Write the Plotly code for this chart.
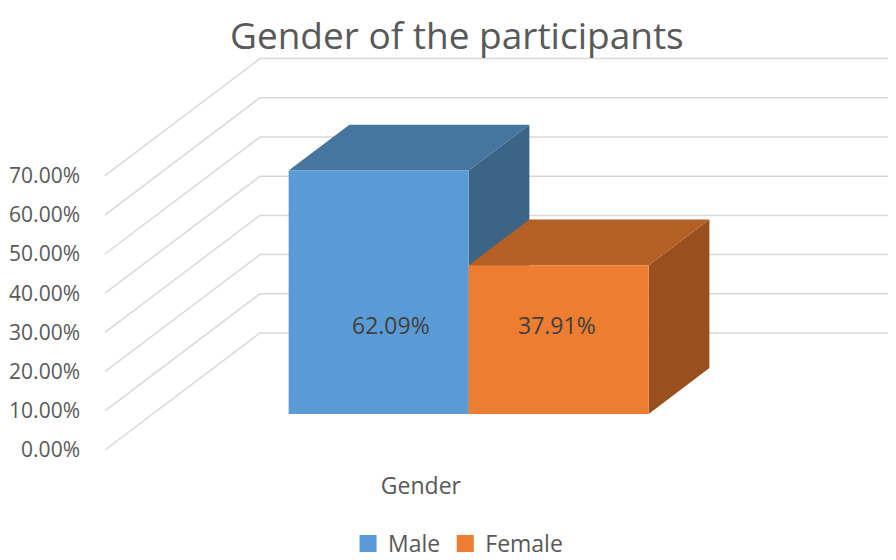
import plotly.graph_objects as go

# ---------------- data ----------------
categories = ["Male", "Female"]
values = [62.09, 37.91]                      # percent
value_labels = ["62.09%", "37.91%"]
tick_values = [0, 10, 20, 30, 40, 50, 60, 70]
tick_labels = ["0.00%", "10.00%", "20.00%", "30.00%", "40.00%", "50.00%", "60.00%", "70.00%"]
group_label = "Gender"
title_text = "Gender of the participants"

# ---------------- styling / projection ----------------
front_colors = ["#5B9BD5", "#ED7D31"]
top_colors = ["#4675A0", "#B45F23"]
side_colors = ["#3B6487", "#994F1E"]
grid_color = "#D9D9D9"
text_color = "#595959"
FONT = "Open Sans"

DX, DY = 0.861, 29.85      # full floor depth vector (x units, y units)
D0, D1 = 0.308, 0.70       # bar front / back depth fraction
BAR_START = 0.755          # left edge of first bar at depth 0
BAR_W = 1.0
WALL_W = 3.5               # floor width
LABEL_Y = 32.0
LABEL_DX = [0.07, -0.01]

fig = go.Figure()

# gridlines: diagonal on side wall + horizontal on back wall
for v in tick_values:
    fig.add_trace(go.Scatter(
        x=[0, DX, DX + WALL_W], y=[v, v + DY, v + DY],
        mode="lines", line=dict(color=grid_color, width=1.5),
        hoverinfo="skip", showlegend=False))

# 3D bars as polygons
for i, (cat, h) in enumerate(zip(categories, values)):
    xl = BAR_START + i * BAR_W
    xr = xl + BAR_W
    fx, fy = D0 * DX, D0 * DY
    bx, by = D1 * DX, D1 * DY
    # right side face
    fig.add_trace(go.Scatter(
        x=[xr + fx, xr + bx, xr + bx, xr + fx, xr + fx],
        y=[fy, by, h + by, h + fy, fy],
        fill="toself", fillcolor=side_colors[i], mode="lines",
        line=dict(width=0, color=side_colors[i]), hoverinfo="skip", showlegend=False))
    # top face
    fig.add_trace(go.Scatter(
        x=[xl + fx, xr + fx, xr + bx, xl + bx, xl + fx],
        y=[h + fy, h + fy, h + by, h + by, h + fy],
        fill="toself", fillcolor=top_colors[i], mode="lines",
        line=dict(width=0, color=top_colors[i]), hoverinfo="skip", showlegend=False))
    # front face
    fig.add_trace(go.Scatter(
        x=[xl + fx, xr + fx, xr + fx, xl + fx, xl + fx],
        y=[fy, fy, h + fy, h + fy, fy],
        fill="toself", fillcolor=front_colors[i], mode="lines",
        line=dict(width=0, color=front_colors[i]), name=cat,
        hoverinfo="x+y", showlegend=False))
    # value label
    fig.add_annotation(
        x=(xl + xr) / 2 + fx + LABEL_DX[i], y=LABEL_Y, text=value_labels[i],
        showarrow=False, font=dict(family=FONT, size=23, color="#404040"))

# legend entries (square icons)
for i, cat in enumerate(categories):
    fig.add_trace(go.Bar(
        x=[None], y=[None], name=cat,
        marker=dict(color=front_colors[i], line=dict(color=front_colors[i], width=5))))

center_x = BAR_START + len(categories) * BAR_W / 2

fig.add_annotation(
    x=0.4647, xref="paper", y=1.039, yref="paper", yanchor="middle",
    text=title_text, showarrow=False,
    font=dict(family=FONT, size=37, color=text_color))

# page body has an 8px default margin, so the figure is sized to fit the window
fig.update_layout(
    width=888, height=552,
    margin=dict(l=73, r=5, t=42, b=100, autoexpand=False),
    paper_bgcolor="white", plot_bgcolor="white",
    showlegend=True,
    legend=dict(orientation="h", x=0.4655, xanchor="center", y=-0.2561, yanchor="bottom",
                font=dict(family=FONT, size=23, color=text_color), itemwidth=30),
    xaxis=dict(range=[-0.1333, 4.3667], showgrid=False, zeroline=False, showline=False,
               tickmode="array", tickvals=[center_x], ticktext=[group_label],
               ticks="", ticklabelstandoff=10, automargin=False,
               tickfont=dict(family=FONT, size=23, color=text_color), fixedrange=True),
    yaxis=dict(range=[-2.551, 102.04], showgrid=False, zeroline=False, showline=False,
               tickmode="array", tickvals=tick_values, ticktext=tick_labels,
               ticks="", automargin=False,
               tickfont=dict(family=FONT, size=21, color=text_color), fixedrange=True),
)

fig.write_html("out.html")
